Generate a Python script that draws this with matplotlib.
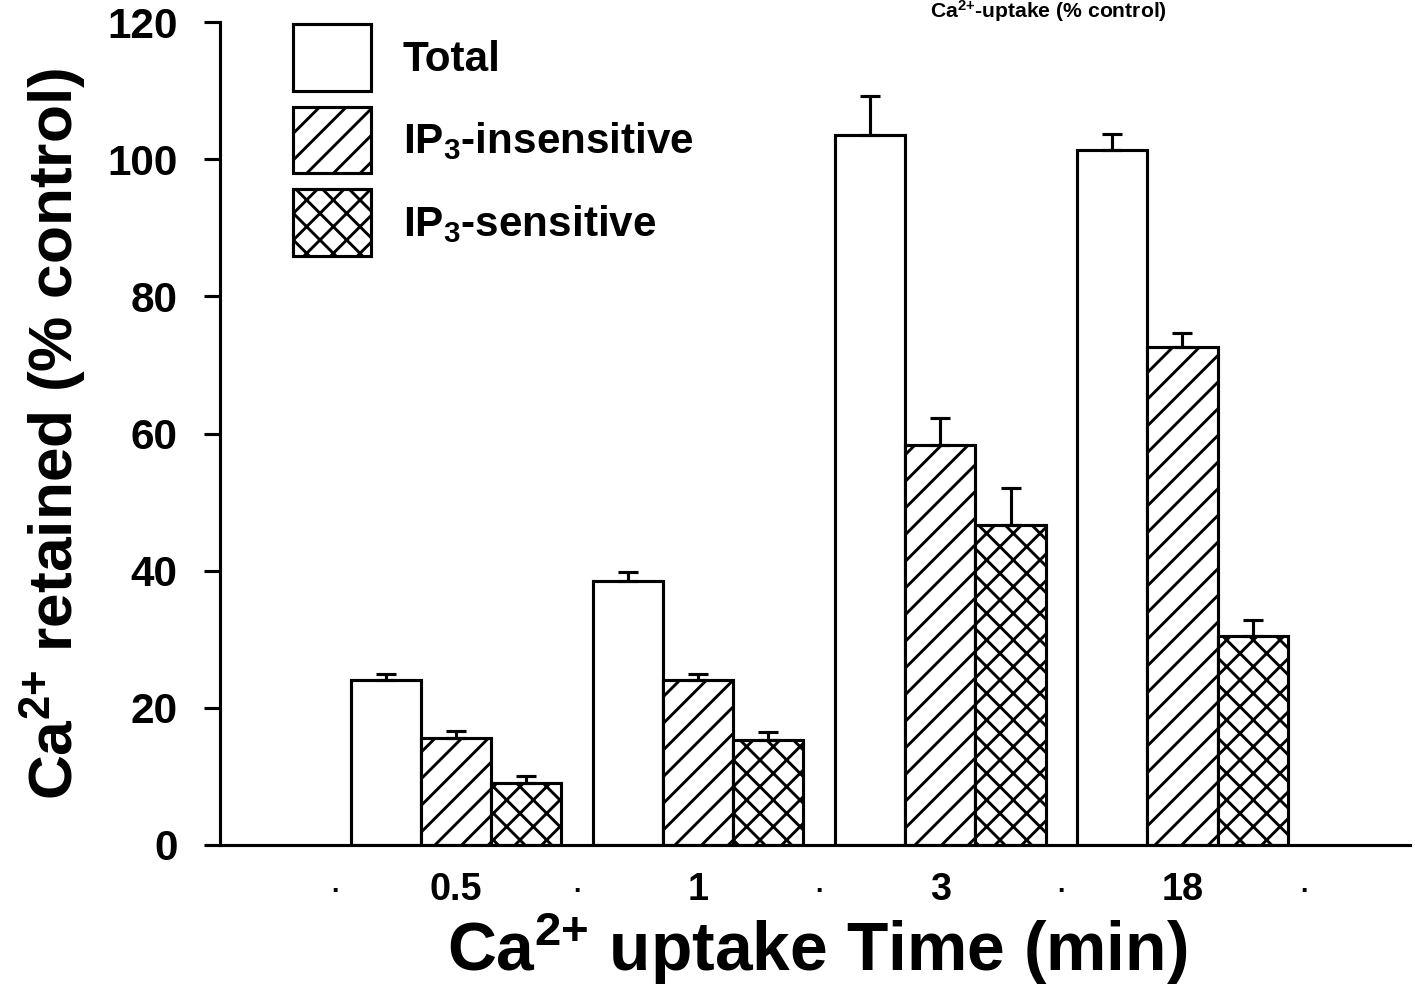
"""
Ca2+ retained (% control) vs Ca2+ uptake time — grouped hatched bar chart.
"""
import numpy as np
import matplotlib
matplotlib.use("Agg")
import matplotlib.pyplot as plt

plt.rcParams["font.family"] = ["Liberation Sans", "DejaVu Sans"]
plt.rcParams["font.weight"] = "bold"
plt.rcParams["mathtext.fontset"] = "custom"
plt.rcParams["mathtext.rm"] = "Liberation Sans:bold"
plt.rcParams["mathtext.bf"] = "Liberation Sans:bold"
plt.rcParams["mathtext.default"] = "bf"
plt.rcParams["hatch.linewidth"] = 1.3

# data
times = ["0.5", "1", "3", "18"]
series = ["Total", r"IP$_3$-insensitive", r"IP$_3$-sensitive"]
total = [24.0, 38.5, 103.5, 101.3]
total_err = [1.0, 1.3, 5.7, 2.3]
insens = [15.6, 24.0, 58.3, 72.6]
insens_err = [1.0, 1.0, 4.0, 2.0]
sens = [9.0, 15.3, 46.6, 30.5]
sens_err = [1.0, 1.2, 5.5, 2.3]

DPI = 160
fig = plt.figure(figsize=(1415 / DPI, 986 / DPI), dpi=DPI)
ax = fig.add_axes([220 / 1415, 1 - 845 / 986, 1190 / 1415, 823 / 986])

x = np.arange(len(times))
w = 0.29
lw = 1.4
values = [total, insens, sens]
errors = [total_err, insens_err, sens_err]
hatches = ["", "//", "xx"]
for k, (vals, errs, h, lab) in enumerate(zip(values, errors, hatches, series)):
    pos = x + (k - 1) * w
    ax.bar(pos, vals, width=w, facecolor="white", edgecolor="black",
           linewidth=lw, hatch=h, label=lab, zorder=2)
    ax.errorbar(pos, vals, yerr=[np.zeros(len(errs)), errs], fmt="none",
                ecolor="black", elinewidth=lw, capsize=4.5, capthick=lw,
                zorder=3)

ax.set_xlim(-0.975, 3.94)
ax.set_ylim(0, 120)
ax.set_yticks(np.arange(0, 121, 20))
ax.set_xticks(x)
ax.set_xticklabels(times, fontsize=17, fontweight="bold")
ax.set_xticks(np.arange(-0.5, 4, 1.0), minor=True)
ax.set_xticklabels(["."] * 5, minor=True, fontsize=12)
ax.tick_params(axis="x", which="both", length=0, pad=12)
ax.tick_params(axis="y", length=7, width=lw, labelsize=19, pad=12)
for t in ax.get_yticklabels():
    t.set_fontweight("bold")

for s in ["top", "right"]:
    ax.spines[s].set_visible(False)
ax.spines["left"].set_linewidth(lw)
ax.spines["bottom"].set_linewidth(lw)

ax.set_ylabel(r"Ca$^{2{+}}$ retained (% control)", fontsize=28,
              fontweight="bold")
ax.yaxis.set_label_coords(-0.11, 0.5)
ax.set_xlabel(r"Ca$^{2{+}}$ uptake Time (min)", fontsize=30.5, fontweight="bold")
ax.xaxis.set_label_coords(0.502, -0.079)

leg = ax.legend(loc="upper left", bbox_to_anchor=(0.047, 1.018), frameon=False,
                fontsize=19, handlelength=1.85, handleheight=2.05,
                labelspacing=0.38, handletextpad=0.75, borderaxespad=0)
for t in leg.get_texts():
    t.set_fontweight("bold")

fig.text(1048 / 1415, 1 - 11 / 986, r"Ca$^{2{+}}$-uptake (% control)",
         fontsize=9.5, fontweight="bold", ha="center", va="center")

fig.savefig("out.png", dpi=DPI)
